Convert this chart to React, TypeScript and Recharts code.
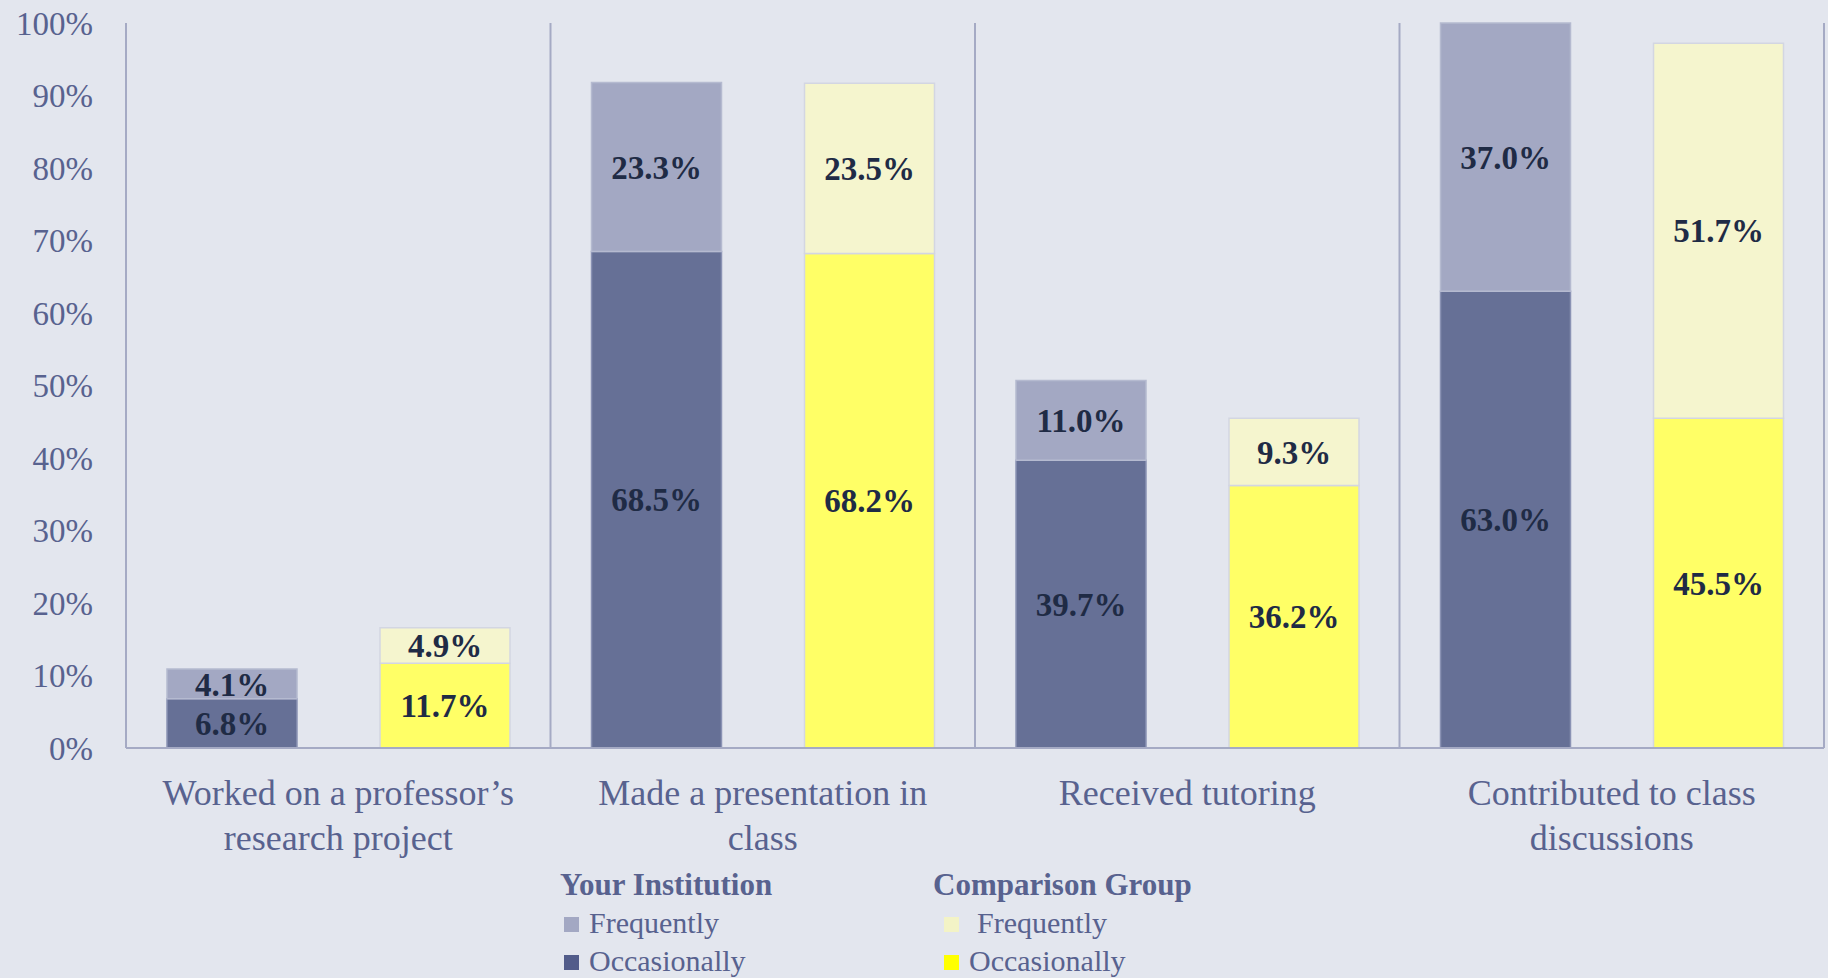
import React from "react";
import {
  BarChart,
  Bar,
  XAxis,
  YAxis,
  LabelList,
  CartesianGrid,
  Legend,
} from "recharts";

const categories = [
  "Worked on a professor’s research project",
  "Made a presentation in class",
  "Received tutoring",
  "Contributed to class discussions",
];
const categoryLines = [
  ["Worked on a professor’s", "research project"],
  ["Made a presentation in", "class"],
  ["Received tutoring"],
  ["Contributed to class", "discussions"],
];
const instOccasionally = [6.8, 68.5, 39.7, 63.0];
const instFrequently = [4.1, 23.3, 11.0, 37.0];
const compOccasionally = [11.7, 68.2, 36.2, 45.5];
const compFrequently = [4.9, 23.5, 9.3, 51.7];
const yTicks = [0, 10, 20, 30, 40, 50, 60, 70, 80, 90, 100];
const separators = [1, 2, 3, 4];

const data = categories.map((name, i) => ({
  name,
  instOcc: instOccasionally[i],
  instFreq: instFrequently[i],
  compOcc: compOccasionally[i],
  compFreq: compFrequently[i],
}));

const FONT = "'Liberation Serif', 'Times New Roman', serif";
const BG = "#E3E6EE";
const TEXT = "#58628F";
const LABEL = "#1F2B45";
const AXIS = "#A5AAC4";

const CategoryTick = (props: any) => {
  const { x, y, index } = props;
  const lines = categoryLines[index] || [];
  return (
    <text x={x} y={y} textAnchor="middle" fill={TEXT} fontFamily={FONT} fontSize={36}>
      {lines.map((l, i) => (
        <tspan key={i} x={x} dy={i === 0 ? 55 : 45}>
          {l}
        </tspan>
      ))}
    </text>
  );
};

const fmt = (v: any) => `${Number(v).toFixed(1)}%`;

const Swatch = ({ color }: { color: string }) => (
  <span
    style={{
      display: "inline-block",
      width: 15,
      height: 15,
      background: color,
      marginRight: 10,
      verticalAlign: "middle",
      position: "relative",
      top: -2,
    }}
  />
);

const LegendBox = () => (
  <div
    style={{
      display: "flex",
      fontFamily: FONT,
      fontSize: 30,
      lineHeight: "38px",
      color: TEXT,
    }}
  >
    <div style={{ width: 373 }}>
      <div style={{ fontWeight: "bold", fontSize: 31 }}>Your Institution</div>
      <div style={{ paddingLeft: 4 }}>
        <Swatch color="#A3A8C3" />Frequently
      </div>
      <div style={{ paddingLeft: 4 }}>
        <Swatch color="#525C8A" />Occasionally
      </div>
    </div>
    <div>
      <div style={{ fontWeight: "bold", fontSize: 31 }}>Comparison Group</div>
      <div style={{ paddingLeft: 11 }}>
        <Swatch color="#F3F3C6" />
        <span style={{ marginLeft: 8 }}>Frequently</span>
      </div>
      <div style={{ paddingLeft: 11 }}>
        <Swatch color="#FFFF00" />Occasionally
      </div>
    </div>
  </div>
);

export default function App() {
  return (
    <div
      style={{
        position: "absolute",
        left: 0,
        top: 0,
        width: 1828,
        height: 978,
        background: BG,
      }}
    >
      <BarChart
        width={1828}
        height={978}
        data={data}
        margin={{ top: 23, right: 4, left: 0, bottom: 150 }}
        barCategoryGap={41}
        barGap={83}
      >
        <CartesianGrid
          horizontal={false}
          vertical
          stroke={AXIS}
          strokeWidth={2}
          verticalCoordinatesGenerator={({ offset }: any) =>
            separators.map((s) => offset.left + (s * offset.width) / categories.length)
          }
        />
        <XAxis
          dataKey="name"
          tick={<CategoryTick />}
          tickLine={false}
          tickSize={0}
          axisLine={{ stroke: AXIS, strokeWidth: 2 }}
          interval={0}
          height={80}
        />
        <YAxis
          domain={[0, 100]}
          ticks={yTicks}
          tickFormatter={(v) => `${v}%`}
          width={126}
          tickLine={false}
          tickMargin={27}
          axisLine={{ stroke: AXIS, strokeWidth: 2 }}
          tick={{ fill: TEXT, fontFamily: FONT, fontSize: 33 }}
          interval={0}
        />
        <Legend
          layout="horizontal"
          verticalAlign="middle"
          align="center"
          wrapperStyle={{ left: 560, top: 866, width: 700 }}
          content={() => <LegendBox />}
        />
        <Bar dataKey="instOcc" stackId="inst" fill="#667096" stroke="#8A92B4" strokeWidth={1.5} isAnimationActive={false}>
          <LabelList dataKey="instOcc" position="center" formatter={fmt} fill={LABEL} fontFamily={FONT} fontSize={33} fontWeight="bold" />
        </Bar>
        <Bar dataKey="instFreq" stackId="inst" fill="#A3A8C3" stroke="#B5BAD0" strokeWidth={1.5} isAnimationActive={false}>
          <LabelList dataKey="instFreq" position="center" formatter={fmt} fill={LABEL} fontFamily={FONT} fontSize={33} fontWeight="bold" />
        </Bar>
        <Bar dataKey="compOcc" stackId="comp" fill="#FFFF66" stroke="#D3D6E2" strokeWidth={1.5} isAnimationActive={false}>
          <LabelList dataKey="compOcc" position="center" formatter={fmt} fill={LABEL} fontFamily={FONT} fontSize={33} fontWeight="bold" />
        </Bar>
        <Bar dataKey="compFreq" stackId="comp" fill="#F5F5CE" stroke="#D3D6E2" strokeWidth={1.5} isAnimationActive={false}>
          <LabelList dataKey="compFreq" position="center" formatter={fmt} fill={LABEL} fontFamily={FONT} fontSize={33} fontWeight="bold" />
        </Bar>
      </BarChart>
    </div>
  );
}
